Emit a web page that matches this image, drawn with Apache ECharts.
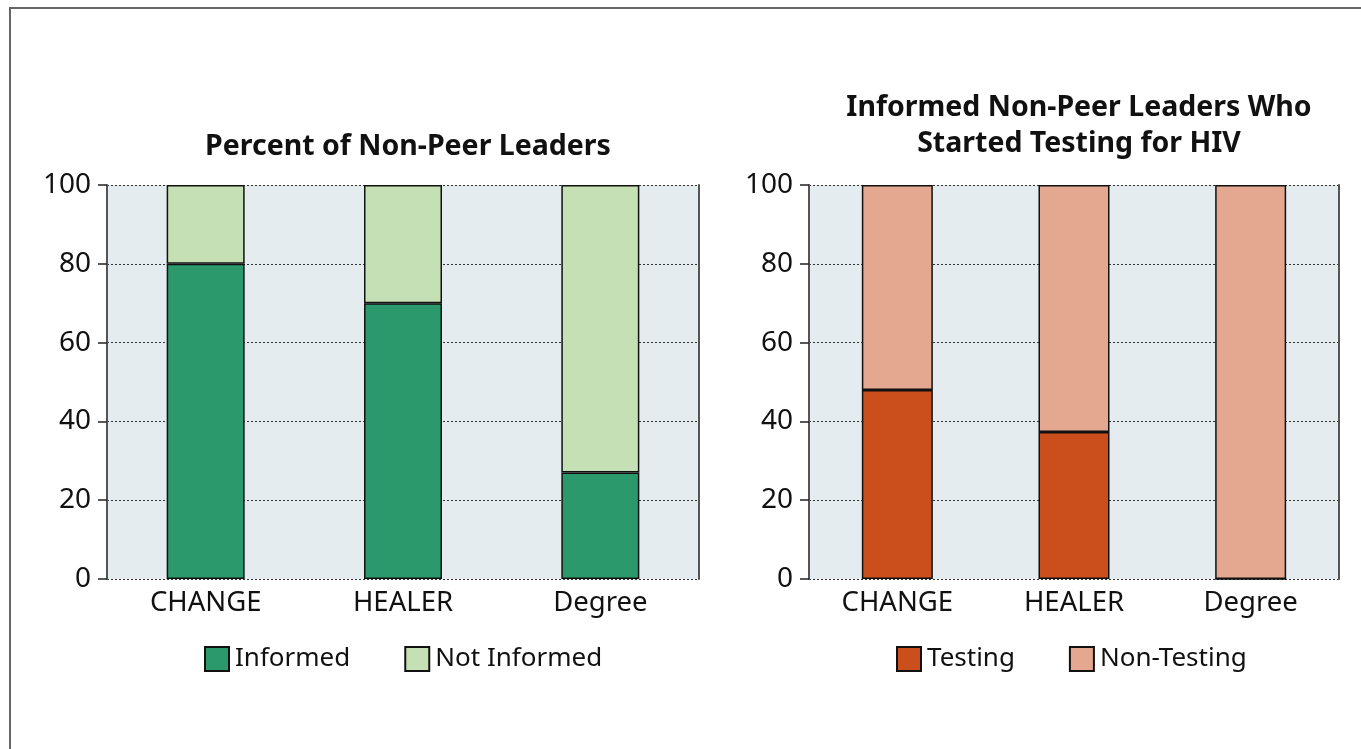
<!DOCTYPE html>
<html>
<head>
<meta charset="utf-8">
<script src="https://cdn.jsdelivr.net/npm/echarts@6/dist/echarts.min.js"></script>
<style>
html,body{margin:0;padding:0;background:#fff;}
#c{width:1361px;height:749px;}
</style>
</head>
<body>
<div id="c"></div>
<script>
const categories = ['CHANGE', 'HEALER', 'Degree'];
const informed = [80, 70, 27];
const notInformed = [20, 30, 73];
const testing = [48, 37.3, 0];
const nonTesting = [52, 62.7, 100];
const yTicks = [0, 20, 40, 60, 80, 100];
const leftTitle = 'Percent of Non-Peer Leaders';
const rightTitle = 'Informed Non-Peer Leaders Who\nStarted Testing for HIV';

const FONT = '"Noto Sans", "Open Sans", sans-serif';
const chart = echarts.init(document.getElementById('c'), null, {renderer: 'canvas'});

function xAxis(gi) {
  return {
    type: 'category', gridIndex: gi, data: categories,
    axisLine: {show: false}, axisTick: {show: false},
    axisLabel: {color: '#111', fontFamily: FONT, fontSize: 27.5, margin: 10}
  };
}
function yAxisLeft(gi) {
  return {
    type: 'value', gridIndex: gi, min: 0, max: 100, interval: 20,
    axisLine: {show: true, lineStyle: {color: '#555', width: 2}},
    axisTick: {show: true, length: 9, lineStyle: {color: '#222', width: 1.5}},
    axisLabel: {color: '#111', fontFamily: FONT, fontSize: 28, margin: 16,
      formatter: v => yTicks.includes(v) ? String(v) : ''},
    splitLine: {show: true, lineStyle: {color: '#333', type: [2, 2], width: 1}}
  };
}
function yAxisRight(gi) {
  return {
    type: 'value', gridIndex: gi, min: 0, max: 100, interval: 20, position: 'right',
    axisLine: {show: true, lineStyle: {color: '#555', width: 2}},
    axisTick: {show: false}, axisLabel: {show: false}, splitLine: {show: false}
  };
}
const border = {borderColor: '#111', borderWidth: 1.5};

chart.setOption({
  backgroundColor: '#fff',
  animation: false,
  textStyle: {fontFamily: FONT},
  title: [
    {text: leftTitle, left: 403, top: 127, textAlign: 'center',
      textStyle: {fontFamily: FONT, fontSize: 28.5, fontWeight: 'bold', color: '#111'}},
    {text: rightTitle, left: 1074, top: 85, textAlign: 'center',
      textStyle: {fontFamily: FONT, fontSize: 28.5, fontWeight: 'bold', color: '#111', lineHeight: 36}}
  ],
  grid: [
    {left: 107, top: 185, width: 592, height: 394, show: true, backgroundColor: '#e4ecf0', borderWidth: 0},
    {left: 809, top: 185, width: 530, height: 394, show: true, backgroundColor: '#e4ecf0', borderWidth: 0}
  ],
  xAxis: [xAxis(0), xAxis(1)],
  yAxis: [yAxisLeft(0), yAxisRight(0), yAxisLeft(1), yAxisRight(1)],
  legend: [
    {data: ['Informed', 'Not Informed'], left: 199, top: 641, itemWidth: 24, itemHeight: 24, itemGap: 54,
      icon: 'rect', textStyle: {fontFamily: FONT, fontSize: 26, color: '#111', padding: [0, 0, 0, 1]}},
    {data: ['Testing', 'Non-Testing'], left: 891, top: 641, itemWidth: 24, itemHeight: 24, itemGap: 54,
      icon: 'rect', textStyle: {fontFamily: FONT, fontSize: 26, color: '#111', padding: [0, 0, 0, 1]}}
  ],
  series: [
    {name: 'Informed', type: 'bar', stack: 'a', xAxisIndex: 0, yAxisIndex: 0, data: informed, barWidth: 78,
      itemStyle: Object.assign({color: '#2b996b'}, border)},
    {name: 'Not Informed', type: 'bar', stack: 'a', xAxisIndex: 0, yAxisIndex: 0, data: notInformed, barWidth: 78,
      itemStyle: Object.assign({color: '#c6e0b5'}, border)},
    {name: 'Testing', type: 'bar', stack: 'b', xAxisIndex: 1, yAxisIndex: 2, data: testing, barWidth: 71,
      itemStyle: Object.assign({color: '#ca4f1c'}, border)},
    {name: 'Non-Testing', type: 'bar', stack: 'b', xAxisIndex: 1, yAxisIndex: 2, data: nonTesting, barWidth: 71,
      itemStyle: Object.assign({color: '#e4a78f'}, border)}
  ],
  graphic: [
    {type: 'rect', shape: {x: 10, y: 8, width: 1400, height: 800}, silent: true, z: 100,
      style: {fill: 'none', stroke: '#666', lineWidth: 2}}
  ]
});
</script>
</body>
</html>
